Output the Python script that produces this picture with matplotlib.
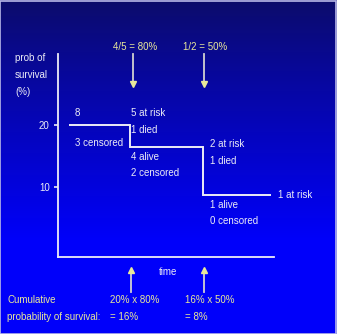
import numpy as np
import matplotlib
matplotlib.use("Agg")
import matplotlib.pyplot as plt
from matplotlib.patches import Rectangle
from matplotlib import font_manager

# ---- data ----
step_times = [0.5, 3.33, 6.72, 9.85]        # start, event 1, event 2, end
step_surv = [20, 16.5, 8.7]                # survival level on each interval
yticks = [10, 20]
top_arrow_x = [3.47, 6.78]
top_arrow_labels = ["4/5 = 80%", "1/2 = 50%"]
bottom_arrow_x = [3.38, 6.78]

W, H = 337, 334
fig = plt.figure(figsize=(W / 100, H / 100), dpi=100)

names = {f.name for f in font_manager.fontManager.ttflist}
FONT = "Liberation Sans Narrow" if "Liberation Sans Narrow" in names else "Liberation Sans"
SIZE = 8 if FONT == "Liberation Sans Narrow" else 7

# background gradient
bg = fig.add_axes([0, 0, 1, 1])
bg.set_axis_off()
n = 334
t = np.clip(np.linspace(0, 1, n) / 0.72, 0, 1) ** 0.9
top = np.array([12, 12, 105]) / 255
bot = np.array([0, 0, 250]) / 255
grad = top[None, :] * (1 - t[:, None]) + bot[None, :] * t[:, None]
bg.imshow(grad[:, None, :], aspect="auto", extent=[0, 1, 0, 1])
bg.set_xlim(0, 1); bg.set_ylim(0, 1)
bg.add_patch(Rectangle((0.001, 0.001), 0.997, 0.997, fill=False,
                       edgecolor="#b8b8e8", lw=1.2, transform=bg.transAxes))

def px(x, y):
    return x / W, 1 - y / H

white = "#ececf6"
yellow = "#e8e89a"
shaft = "#d0d0d0"

ax = fig.add_axes([58 / W, (H - 257) / H, (274 - 58) / W, (257 - 54) / H])
ax.patch.set_alpha(0)
ax.set_xlim(0, 10)
ax.set_ylim(-1.29, 31.45)
for s in ["top", "right"]:
    ax.spines[s].set_visible(False)
for s in ["left", "bottom"]:
    ax.spines[s].set_color(white)
    ax.spines[s].set_linewidth(1.3)
ax.set_xticks([])
ax.set_yticks(yticks)
ax.set_yticklabels([str(v) for v in yticks], fontsize=SIZE, color=white, family=FONT)
ax.tick_params(axis="y", colors=white, length=3, width=1.2, pad=3)

# step function
for i, lvl in enumerate(step_surv):
    ax.plot([step_times[i], step_times[i + 1]], [lvl, lvl], color=white, lw=1.4,
            solid_capstyle="butt")
    if i + 1 < len(step_surv):
        ax.plot([step_times[i + 1], step_times[i + 1]], [lvl, step_surv[i + 1]],
                color=white, lw=1.4)

# arrows: grey shaft, yellow head
def arrow(x, y0, y1, marker):
    ax.plot([x, x], [y0, y1], color=shaft, lw=1.3, clip_on=False)
    ax.plot([x], [y1], marker=marker, ms=5, color=yellow, mec=yellow, clip_on=False)

for x in top_arrow_x:
    arrow(x, 31.4, 26.6, "v")
for x in bottom_arrow_x:
    arrow(x, -7.0, -3.4, "^")

def txt(x, y, s, color=white, ha="left"):
    fx, fy = px(x, y)
    fig.text(fx, fy, s, color=color, fontsize=SIZE, family=FONT, ha=ha, va="center")

for xp, lab in zip([135, 205], top_arrow_labels):
    txt(xp, 47, lab, color=yellow, ha="center")

txt(15, 58, "prob of")
txt(15, 75, "survival")
txt(15, 92, "(%)")

txt(75, 113, "8")
txt(75, 143, "3 censored")
txt(131, 113, "5 at risk")
txt(131, 130, "1 died")
txt(131, 157, "4 alive")
txt(131, 173, "2 censored")
txt(210, 144, "2 at risk")
txt(210, 161, "1 died")
txt(210, 205, "1 alive")
txt(210, 221, "0 censored")
txt(278, 195, "1 at risk")

txt(168, 272, "time", ha="center")

txt(7, 300, "Cumulative", color=yellow)
txt(7, 317, "probability of survival:", color=yellow)
txt(110, 300, "20% x 80%", color=yellow)
txt(110, 317, "= 16%", color=yellow)
txt(185, 300, "16% x 50%", color=yellow)
txt(185, 317, "= 8%", color=yellow)

fig.savefig("out.png", dpi=100)
